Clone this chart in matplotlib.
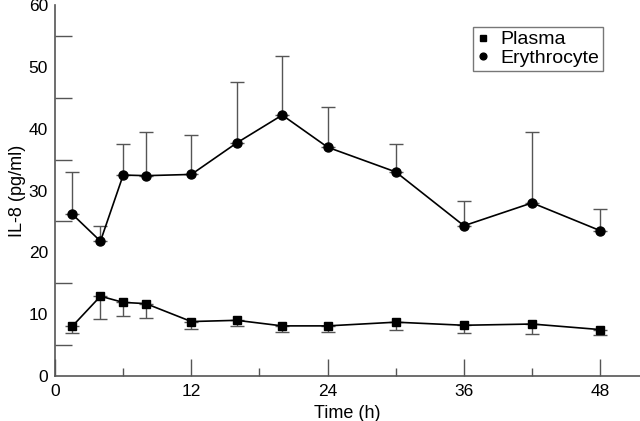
import matplotlib
matplotlib.use("Agg")
import matplotlib.pyplot as plt
from matplotlib.ticker import MultipleLocator

plt.rcParams["font.family"] = ["Liberation Sans", "DejaVu Sans"]

# time points (h)
time_h = [1.5, 4, 6, 8, 12, 16, 20, 24, 30, 36, 42, 48]

# erythrocyte IL-8 mean and upper SD
ery_mean = [26.2, 21.8, 32.5, 32.4, 32.6, 37.7, 42.2, 37.0, 33.0, 24.3, 28.0, 23.5]
ery_upper = [33.0, 24.3, 37.5, 39.5, 39.0, 47.6, 51.8, 43.5, 37.6, 28.3, 39.5, 27.0]

# plasma IL-8 mean and lower SD
plasma_mean = [8.0, 12.9, 11.9, 11.7, 8.8, 9.0, 8.1, 8.1, 8.7, 8.2, 8.4, 7.5]
plasma_lower = [7.0, 9.2, 9.7, 9.4, 7.6, 8.0, 7.1, 7.1, 7.4, 7.0, 6.8, 6.6]

x_ticks = [0, 12, 24, 36, 48]
y_ticks = [0, 10, 20, 30, 40, 50, 60]

fig = plt.figure(figsize=(6.4, 4.21), dpi=100)
ax = fig.add_axes([0.086, 0.107, 0.914, 0.881])

grey = "#555555"
fs = 12.5

ery_err = [[0] * len(ery_mean), [u - m for u, m in zip(ery_upper, ery_mean)]]
plasma_err = [[m - l for m, l in zip(plasma_mean, plasma_lower)], [0] * len(plasma_mean)]

ax.errorbar(time_h, ery_mean, yerr=ery_err, fmt="none", ecolor=grey,
            elinewidth=1.0, capsize=5, capthick=1.0, zorder=1)
ax.errorbar(time_h, plasma_mean, yerr=plasma_err, fmt="none", ecolor=grey,
            elinewidth=1.0, capsize=5, capthick=1.0, zorder=1)

ax.plot(time_h, plasma_mean, color="black", lw=1.2, marker="s", ms=6,
        label="Plasma", zorder=3)
ax.plot(time_h, ery_mean, color="black", lw=1.2, marker="o", ms=6.5,
        label="Erythrocyte", zorder=3)

ax.set_xlim(0, 51.5)
ax.set_ylim(0, 60)

for side in ("top", "right"):
    ax.spines[side].set_visible(False)
for side in ("left", "bottom"):
    ax.spines[side].set_color(grey)
    ax.spines[side].set_linewidth(1.2)

ax.set_xticks(x_ticks)
ax.xaxis.set_minor_locator(MultipleLocator(6))
ax.set_yticks(y_ticks)
ax.yaxis.set_minor_locator(MultipleLocator(5))

ax.tick_params(axis="x", which="major", direction="in", length=12, width=1,
               color=grey, labelsize=fs, pad=6)
ax.tick_params(axis="x", which="minor", direction="in", length=6, width=1,
               color=grey)
ax.tick_params(axis="y", which="major", length=0, labelsize=fs, pad=5)
ax.tick_params(axis="y", which="minor", direction="in", length=12, width=1,
               color=grey)

ax.set_xlabel("Time (h)", fontsize=fs + 0.5, labelpad=4)
ax.set_ylabel("IL-8 (pg/ml)", fontsize=fs + 0.5)
ax.yaxis.set_label_coords(-0.05, 0.5)

leg = ax.legend(loc="upper right", bbox_to_anchor=(0.937, 0.941), fontsize=14,
                frameon=True, fancybox=False, handlelength=0.6,
                handletextpad=0.6, borderpad=0.2, labelspacing=0.05,
                markerscale=0.75, borderaxespad=0)
leg.get_frame().set_edgecolor(grey)
leg.get_frame().set_linewidth(1.0)
for line in leg.get_lines():
    line.set_linestyle("none")

fig.savefig("out.png", dpi=100)
